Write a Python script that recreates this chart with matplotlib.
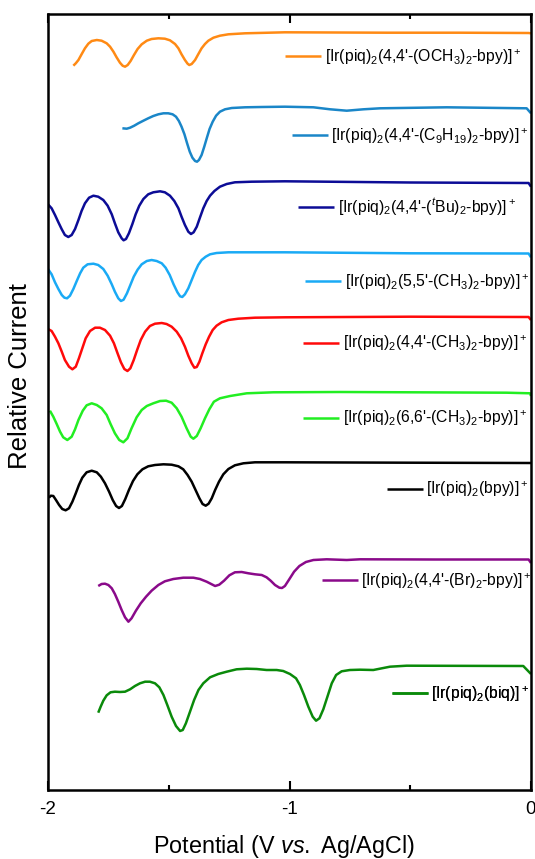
import numpy as np
import matplotlib
matplotlib.use('Agg')
import matplotlib.pyplot as plt

plt.rcParams['font.family'] = 'Liberation Sans'
plt.rcParams['mathtext.fontset'] = 'custom'
plt.rcParams['mathtext.rm'] = 'Liberation Sans'
plt.rcParams['mathtext.it'] = 'Liberation Sans:italic'
plt.rcParams['axes.unicode_minus'] = False

# --- DPV traces: potential (V) and current (a.u., already stacked/offset) ---
x_ome = [-1.895, -1.885, -1.874, -1.861, -1.847, -1.833, -1.819, -1.798, -1.778, -1.757,
         -1.743, -1.729, -1.716, -1.702, -1.691, -1.681, -1.670, -1.658, -1.644, -1.629,
         -1.612, -1.591, -1.571, -1.543, -1.516, -1.495, -1.474, -1.460, -1.447, -1.433,
         -1.422, -1.415, -1.405, -1.391, -1.378, -1.364, -1.350, -1.336, -1.315, -1.288,
         -1.253, -1.184, -1.019, -0.60, -0.30, -0.01, 0.0]
y_ome = [724.3, 726.7, 730, 735.7, 741.7, 746.3, 749, 750, 749.3, 746.7,
         743.3, 738.3, 732.7, 727.3, 724.3, 723.3, 725, 729, 735, 741,
         745.7, 749.3, 751, 751.7, 751.3, 749.7, 746, 741.7, 735.7, 730,
         726.3, 725, 726, 730, 735.7, 741.7, 746, 749.3, 752.3, 754.3,
         755.7, 756.7, 757.7, 757.3, 757.3, 757, 756.7]

x_c9 = [-1.692, -1.674, -1.660, -1.643, -1.626, -1.605, -1.585, -1.564, -1.543, -1.522,
        -1.502, -1.484, -1.470, -1.458, -1.447, -1.435, -1.424, -1.413, -1.402, -1.391,
        -1.383, -1.375, -1.364, -1.353, -1.342, -1.331, -1.318, -1.304, -1.288, -1.267,
        -1.239, -1.184, -1.115, -1.019, -0.901, -0.832, -0.763, -0.694, -0.625, -0.349,
        -0.018, 0.0]
y_c9 = [661.7, 661.3, 662.3, 664.3, 666.7, 669.3, 671.7, 674, 675.7, 676.7,
        676.7, 675.7, 673.3, 669, 663.3, 655.7, 646.7, 638.3, 632.3, 629,
        628.3, 630, 635, 643.3, 652.3, 661, 668.3, 674.3, 678.3, 680.7,
        682, 682.7, 683, 683.3, 682.7, 680.7, 679.3, 680.7, 681.7, 682.7,
        681.7, 676.7]

x_tbu = [-2.0, -1.985, -1.971, -1.957, -1.943, -1.930, -1.916, -1.902, -1.888, -1.874,
         -1.861, -1.847, -1.830, -1.812, -1.792, -1.771, -1.753, -1.736, -1.723, -1.709,
         -1.695, -1.687, -1.677, -1.665, -1.651, -1.637, -1.622, -1.605, -1.585, -1.564,
         -1.536, -1.516, -1.495, -1.477, -1.460, -1.447, -1.433, -1.419, -1.408, -1.397,
         -1.384, -1.371, -1.357, -1.343, -1.329, -1.311, -1.288, -1.260, -1.226, -1.157,
         -1.019, -0.5, -0.01, 0.0]
y_tbu = [585.7, 581.7, 575, 567.7, 560.7, 555, 553, 555, 561, 570,
         579, 586.7, 592.3, 594.3, 593.3, 590, 584.3, 575.7, 566.7, 557.7,
         551.7, 549.7, 551, 556.7, 565.7, 575.7, 584.3, 591, 595.7, 597.7,
         598.7, 597.7, 594.3, 589, 581.7, 573.3, 565, 558.3, 556, 557.7,
         563.3, 572.3, 581.7, 589, 594.3, 599, 603.3, 606, 607.7, 608.3,
         608.7, 607.5, 607, 603.3]

x_55 = [-2.0, -1.985, -1.971, -1.957, -1.943, -1.932, -1.921, -1.909, -1.895, -1.881,
        -1.867, -1.854, -1.836, -1.812, -1.792, -1.771, -1.753, -1.736, -1.723, -1.709,
        -1.698, -1.687, -1.673, -1.659, -1.645, -1.629, -1.612, -1.591, -1.571, -1.550,
        -1.529, -1.513, -1.496, -1.480, -1.464, -1.453, -1.444, -1.433, -1.419, -1.405,
        -1.391, -1.378, -1.364, -1.347, -1.329, -1.302, -1.253, -1.019, -0.5, -0.01,
        0.0]
y_55 = [521, 515.7, 507.7, 501, 495, 492.3, 491.7, 494.3, 501, 509,
        516.7, 522.3, 525.7, 526.3, 525, 521, 514.3, 505.7, 498.3, 491.7,
        489, 490.3, 496.7, 505, 513.3, 520.3, 525.7, 529, 530, 529,
        526.7, 522.3, 515, 505.7, 497.7, 493.7, 493, 495.7, 501.7, 510,
        518.3, 525, 530, 533.3, 535.7, 537, 537.7, 537.7, 536.7, 536.5,
        532.7]

x_44 = [-2.0, -1.985, -1.971, -1.957, -1.943, -1.930, -1.913, -1.899, -1.885, -1.872,
        -1.858, -1.844, -1.826, -1.805, -1.785, -1.764, -1.743, -1.727, -1.712, -1.698,
        -1.684, -1.671, -1.659, -1.645, -1.631, -1.616, -1.598, -1.578, -1.557, -1.529,
        -1.509, -1.488, -1.467, -1.449, -1.433, -1.419, -1.405, -1.394, -1.384, -1.373,
        -1.361, -1.347, -1.333, -1.318, -1.302, -1.281, -1.253, -1.212, -1.143, -1.019,
        -0.5, -0.01, 0.0]
y_44 = [461, 459, 453.3, 446.7, 438.3, 430, 423.3, 420.7, 423.3, 431.7,
        441.7, 451.7, 459, 462.3, 462.3, 460, 454.3, 446.7, 436.7, 427.7,
        421, 419, 421.7, 430, 440, 450, 458.3, 464, 466.3, 467,
        466, 463.3, 458.3, 451.7, 443.3, 434.3, 426.7, 422.3, 423, 428.3,
        436.7, 445.7, 453.3, 460, 464.3, 467.7, 470, 471.3, 472.3, 472.7,
        473.3, 473, 470]

x_66 = [-1.992, -1.978, -1.964, -1.950, -1.937, -1.920, -1.902, -1.888, -1.874, -1.856,
        -1.840, -1.819, -1.798, -1.778, -1.757, -1.741, -1.723, -1.705, -1.688, -1.671,
        -1.654, -1.633, -1.612, -1.591, -1.564, -1.536, -1.511, -1.488, -1.467, -1.447,
        -1.426, -1.409, -1.398, -1.384, -1.368, -1.350, -1.332, -1.313, -1.288, -1.246,
        -1.177, -1.067, -0.791, -0.101, -0.004, 0.0]
y_66 = [379.3, 373.3, 366, 358.3, 352.7, 350, 353.3, 360.7, 370, 379.3,
        384.7, 386.7, 385, 381.7, 375, 366, 356.7, 350, 347.7, 351.7,
        361.7, 372.7, 380, 384, 386.7, 389, 389.3, 387.3, 381.7, 373.3,
        361.7, 353.3, 351.3, 354, 361.7, 371.7, 380.7, 388.3, 391.7, 394,
        396.7, 397.7, 398, 397.3, 396.7, 394]

x_bpy = [-1.996, -1.988, -1.978, -1.967, -1.954, -1.941, -1.927, -1.913, -1.899, -1.885,
         -1.872, -1.858, -1.840, -1.819, -1.798, -1.781, -1.764, -1.747, -1.732, -1.718,
         -1.706, -1.694, -1.680, -1.665, -1.648, -1.630, -1.609, -1.585, -1.557, -1.522,
         -1.488, -1.460, -1.440, -1.422, -1.405, -1.389, -1.373, -1.360, -1.347, -1.335,
         -1.322, -1.308, -1.292, -1.274, -1.253, -1.226, -1.191, -1.143, -1.019, -0.5,
         0.0]
y_bpy = [292.3, 294.3, 294, 290, 285, 281, 279.7, 281.7, 288.3, 296.7,
         305, 312.3, 317.7, 319.3, 317.7, 313.3, 306.7, 298.3, 290, 284,
         282, 284, 291, 300, 309, 315.7, 320.7, 323.7, 325, 325.7,
         325.3, 323.7, 320.7, 315, 308.3, 300, 291.7, 286, 284.3, 286.3,
         291.7, 300, 308.3, 315.7, 321, 324.7, 326.7, 327.7, 327.7, 327.3,
         327]

x_br = [-1.792, -1.778, -1.764, -1.750, -1.736, -1.723, -1.709, -1.695, -1.681, -1.667,
        -1.654, -1.636, -1.616, -1.594, -1.571, -1.543, -1.516, -1.481, -1.440, -1.398,
        -1.371, -1.343, -1.322, -1.308, -1.291, -1.271, -1.249, -1.226, -1.198, -1.170,
        -1.143, -1.115, -1.095, -1.078, -1.060, -1.042, -1.031, -1.019, -1.001, -0.981,
        -0.959, -0.932, -0.901, -0.846, -0.763, -0.708, -0.4, -0.01, 0.0]
y_br = [204, 206, 206.3, 205, 201.7, 196, 188.3, 180, 172.7, 168.3,
        171.7, 179.3, 186.7, 193.3, 199.3, 205, 208.7, 211, 212.3, 212.3,
        211, 208.3, 205.7, 204, 205.3, 209.3, 214.7, 217.7, 218, 216.7,
        215.7, 215, 212.7, 209.3, 205, 202.3, 202, 204, 210.7, 218.3,
        224, 228, 230, 230.7, 230, 230.7, 230.5, 230.5, 227]

x_biq = [-1.792, -1.782, -1.771, -1.757, -1.741, -1.723, -1.702, -1.681, -1.660, -1.640,
         -1.619, -1.598, -1.578, -1.557, -1.539, -1.522, -1.506, -1.488, -1.470, -1.453,
         -1.442, -1.429, -1.412, -1.395, -1.377, -1.357, -1.329, -1.295, -1.260, -1.219,
         -1.177, -1.136, -1.095, -1.053, -1.026, -0.998, -0.973, -0.957, -0.940, -0.922,
         -0.904, -0.890, -0.876, -0.860, -0.843, -0.825, -0.807, -0.784, -0.750, -0.708,
         -0.653, -0.584, -0.515, -0.032, 0.0]
y_biq = [77.3, 83.3, 89.3, 94.7, 97.7, 98.3, 98, 98.3, 100.7, 104,
         106.7, 108.3, 108.3, 106.7, 102.7, 95, 85, 73.3, 64, 59,
         60, 66.7, 78.3, 90, 100, 106.7, 112.7, 116, 118.3, 120.7,
         121.3, 121, 120, 120, 119, 116, 111.7, 105, 95, 83.3,
         73.3, 69.3, 71.7, 80.7, 93.3, 106.7, 115, 118.7, 120, 120.3,
         120, 123.3, 124.3, 124, 116]

labels = [
    r"[Ir(piq)$_2$(4,4'-(OCH$_3$)$_2$-bpy)]$^+$",
    r"[Ir(piq)$_2$(4,4'-(C$_9$H$_{19}$)$_2$-bpy)]$^+$",
    r"[Ir(piq)$_2$(4,4'-($^{\mathit{t}}$Bu)$_2$-bpy)]$^+$",
    r"[Ir(piq)$_2$(5,5'-(CH$_3$)$_2$-bpy)]$^+$",
    r"[Ir(piq)$_2$(4,4'-(CH$_3$)$_2$-bpy)]$^+$",
    r"[Ir(piq)$_2$(6,6'-(CH$_3$)$_2$-bpy)]$^+$",
    r"[Ir(piq)$_2$(bpy)]$^+$",
    r"[Ir(piq)$_2$(4,4'-(Br)$_2$-bpy)]$^+$",
    r"[Ir(piq)$_2$(biq)]$^+$",
]
colors = ['#ff8a14', '#1a86c8', '#0c0c96', '#1aaaf5', '#ff0a0a',
          '#22ee22', '#000000', '#8a0a8a', '#0a8a0a']
traces = [(x_ome, y_ome), (x_c9, y_c9), (x_tbu, y_tbu), (x_55, y_55), (x_44, y_44),
          (x_66, y_66), (x_bpy, y_bpy), (x_br, y_br), (x_biq, y_biq)]

# where each little legend sits (axes fraction)
leg_pos = [(0.4907, 0.9446), (0.5045, 0.8428), (0.5182, 0.7517), (0.5321, 0.6550),
           (0.5286, 0.5756), (0.5286, 0.4790), (0.7012, 0.3875), (0.5667, 0.2693),
           (0.7116, 0.1237)]

fig = plt.figure(figsize=(5.35, 8.59), dpi=100)
ax = fig.add_axes([48 / 535, 1 - 790 / 859, 483 / 535, 776 / 859])

for (x, y), c, lab, pos in zip(traces, colors, labels, leg_pos):
    line, = ax.plot(x, y, color=c, lw=1.8, solid_joinstyle='round', solid_capstyle='butt')
    leg = ax.legend([line], [lab], loc='center left', bbox_to_anchor=pos,
                    frameon=False, fontsize=11.3, handlelength=2.3,
                    handletextpad=0.22, borderpad=0, borderaxespad=0)
    ax.add_artist(leg)

ax.set_xlim(-2, 0)
ax.set_ylim(0, 776)
ax.set_yticks([])
ax.set_xticks([-2, -1, 0], ['-2', '-1', '0'])
ax.set_xticks([-1.5, -0.5], minor=True)
ax.tick_params(which='both', direction='in', top=True, width=1.5, labelsize=13.5, pad=8)
ax.tick_params(which='major', length=6.5)
ax.tick_params(which='minor', length=3.5)
for s in ax.spines.values():
    s.set_linewidth(1.8)

ax.set_xlabel(r'Potential (V $\mathit{vs.}$ Ag/AgCl)', fontsize=16.8)
ax.xaxis.set_label_coords(0.4886, -0.056)
ax.set_ylabel('Relative Current', fontsize=18.5)
ax.yaxis.set_label_coords(-0.033, 0.533)

plt.savefig('out.png', dpi=100)
